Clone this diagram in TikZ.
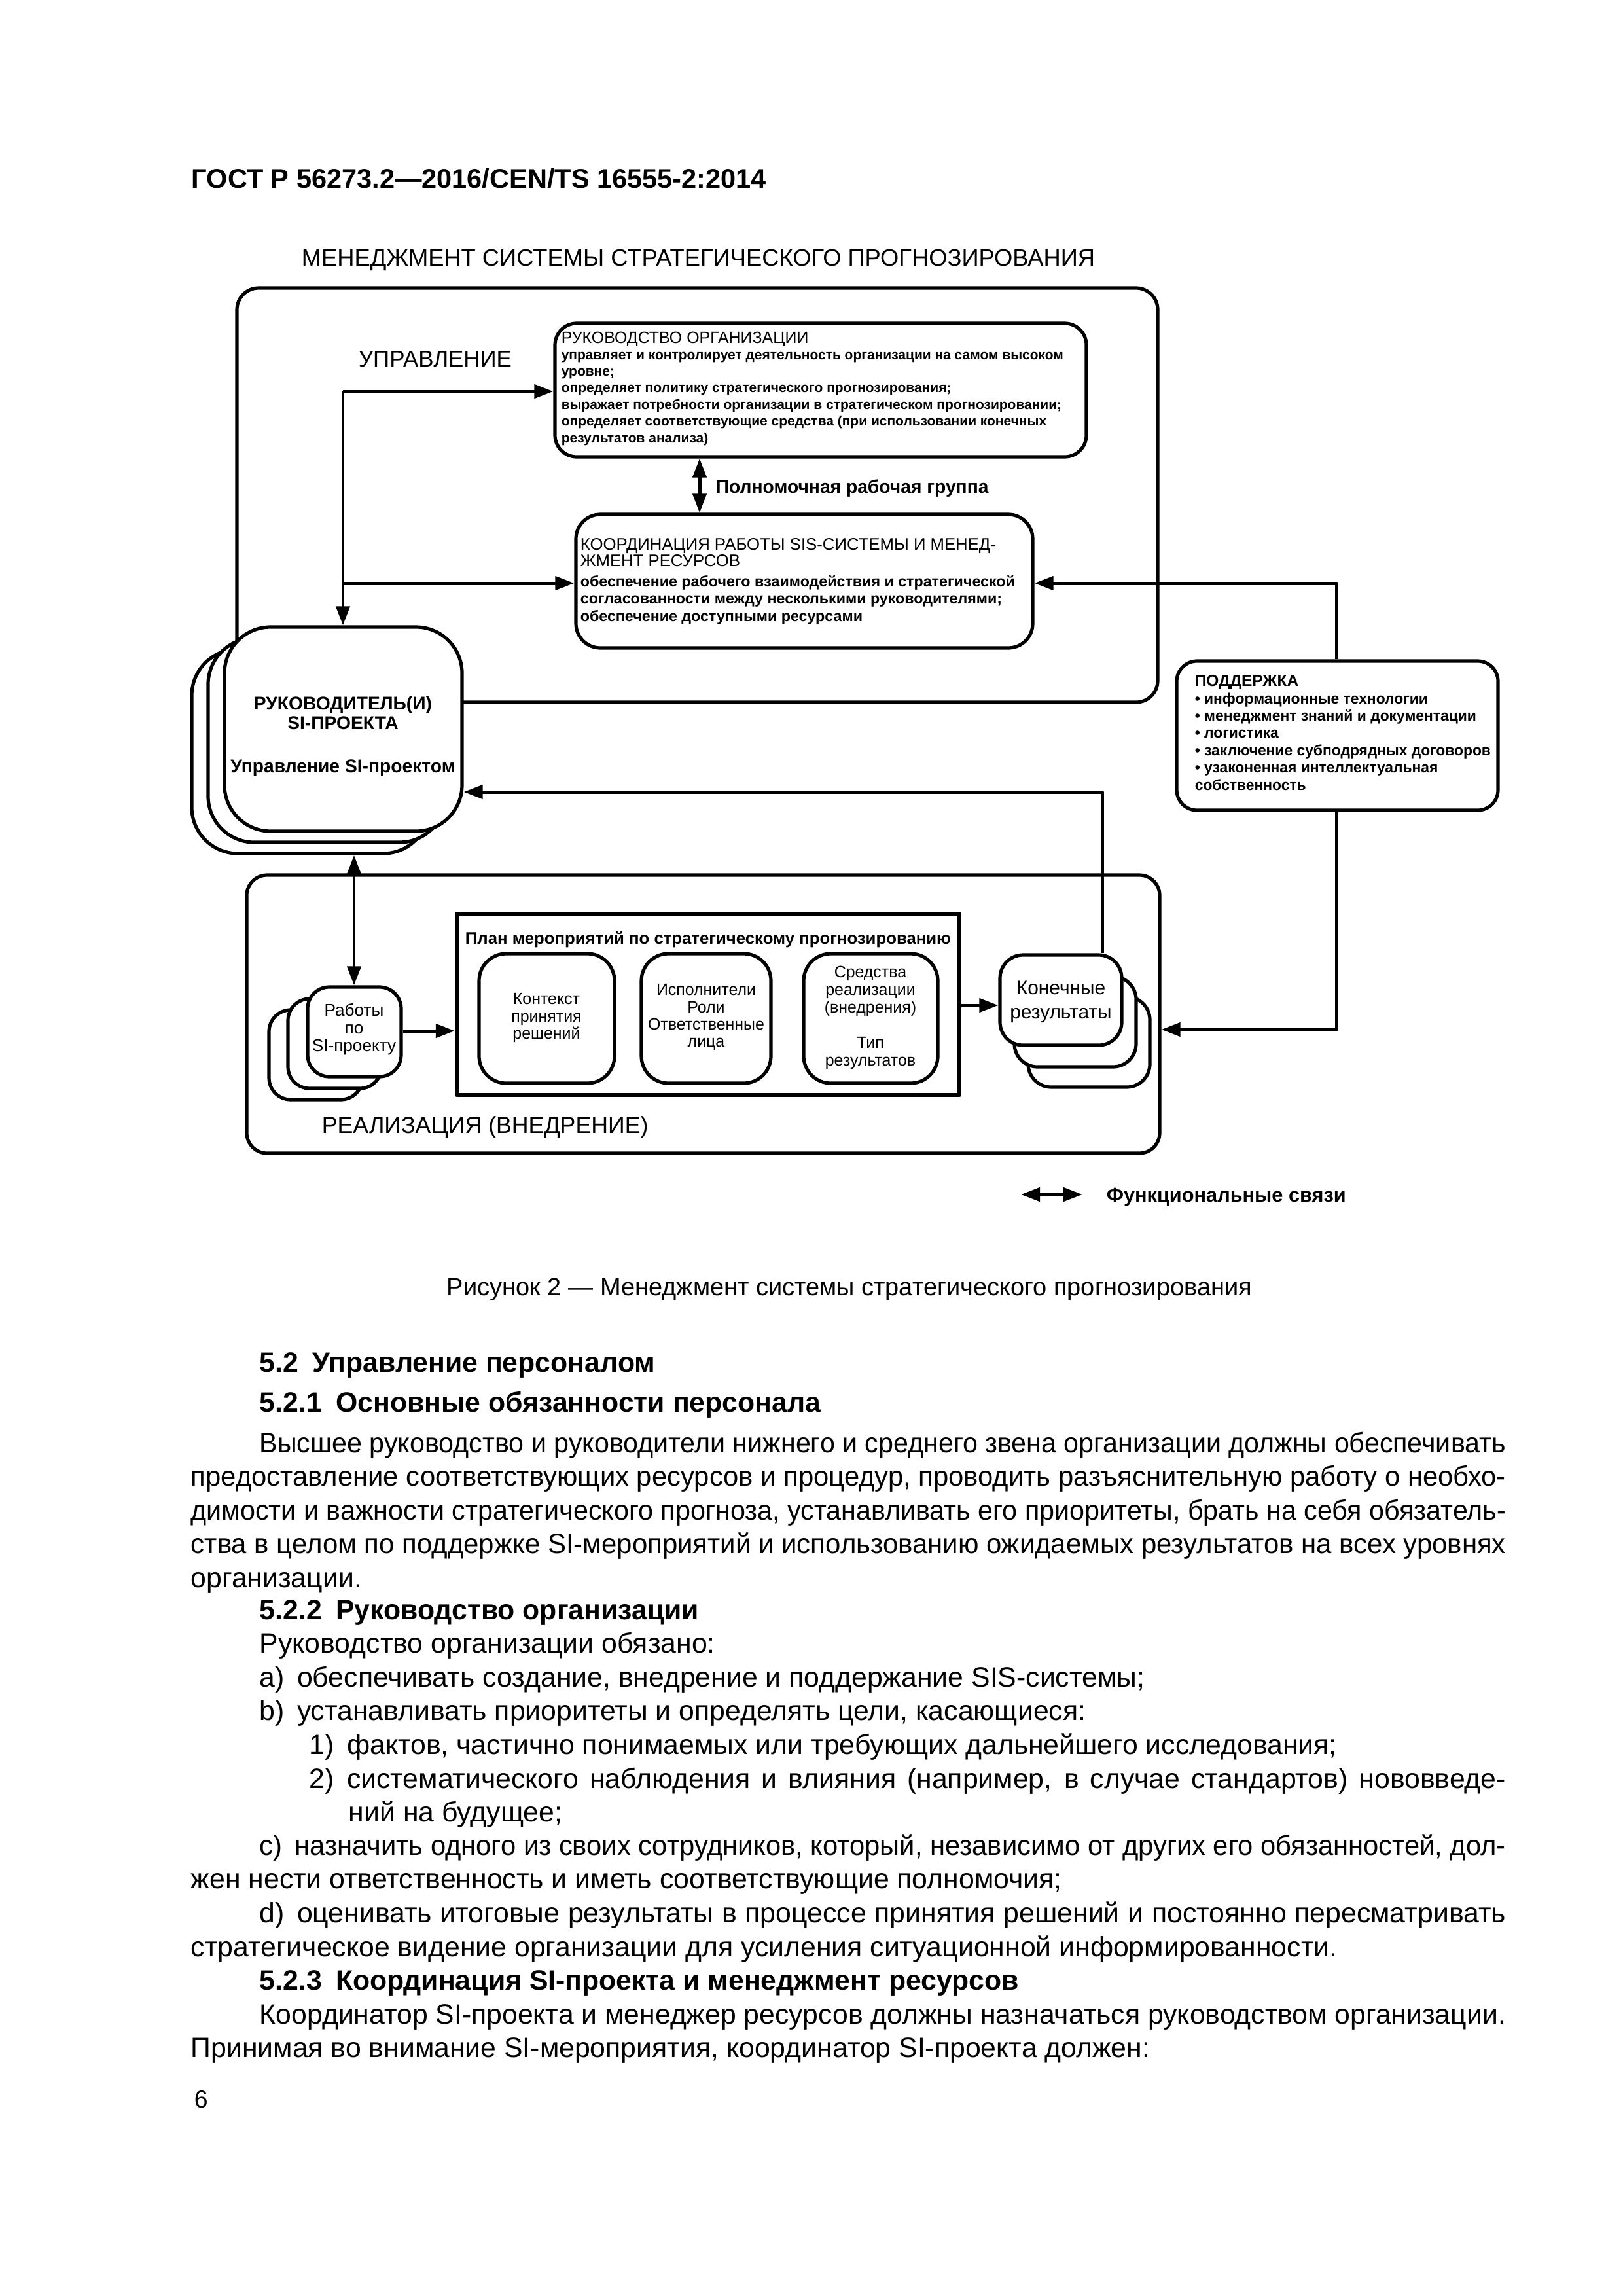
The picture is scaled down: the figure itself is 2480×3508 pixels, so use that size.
\documentclass[tikz,border=0pt]{standalone}
\usepackage{graphicx}
\usepackage{fontspec}
\setmainfont{Liberation Sans}
\usetikzlibrary{arrows.meta}
\newsavebox\jbox
\newcommand\jline[2]{\sbox\jbox{#2}\ifdim\wd\jbox>#1\relax\resizebox{#1}{\height}{\usebox\jbox}\else\hbox to #1{#2}\fi}
\newcommand\fsz[2]{\fontsize{#1}{#2}\selectfont}
\newcommand\bx[6]{\node[rbox,#6,minimum width={(#4-#2)*0.2409pt},minimum height={(#5-#3)*0.2409pt}] (#1) at ({(#2+#4)/2},{(#3+#5)/2}) {};}
\tikzset{
  ln/.style={line width=1.2pt},
  arr/.style={line width=1.2pt,-{Triangle[length=7pt,width=5pt]}},
  darr/.style={line width=1.2pt,{Triangle[length=7pt,width=5pt]}-{Triangle[length=7pt,width=5pt]}},
  rbox/.style={draw,line width=1.25pt,fill=white,inner sep=0pt},
  txt/.style={inner sep=0pt},
  body/.style={txt,anchor=base west,font=\fsz{10.3}{12}},
  bhead/.style={txt,anchor=base west,font=\bfseries\fsz{10.3}{12}},
  rukl/.style={txt,anchor=base west,font=\bfseries\fsz{5.05}{6}},
  col/.style={txt,anchor=base west,font=\bfseries\fsz{5.6}{7}},
  sul/.style={txt,anchor=base west,font=\bfseries\fsz{5.5}{7}},
  mgrl/.style={txt,anchor=base,font=\bfseries\fsz{6.8}{9}},
}
\begin{document}
\begin{tikzpicture}[x=0.2409pt,y=-0.2409pt,line join=round]
\fill[white] (0,0) rectangle (2480,3508);
\useasboundingbox (0,0) rectangle (2480,3508);

% header and title
\node[txt,anchor=base west,font=\bfseries\fsz{10}{12}] (hdr) at (292,287) {ГОСТ Р 56273.2—2016/CEN/TS 16555-2:2014};
\node[txt,anchor=base,font=\fsz{8.75}{10}] (ttl) at (1067,406) {МЕНЕДЖМЕНТ СИСТЕМЫ СТРАТЕГИЧЕСКОГО ПРОГНОЗИРОВАНИЯ};

% outer areas
\bx{ctl}{362}{440}{1769}{1073}{rounded corners=8pt}
\bx{impl}{377}{1337}{1772}{1762}{rounded corners=7.5pt}
\node[txt,anchor=base,font=\fsz{8.4}{10}] (ctlT) at (665,560) {УПРАВЛЕНИЕ};
\node[txt,anchor=base west,font=\fsz{8.6}{10}] (implT) at (491,1731) {РЕАЛИЗАЦИЯ (ВНЕДРЕНИЕ)};

% boxes of the management part
\bx{ruk}{848}{494}{1660}{698}{rounded corners=8pt}
\bx{coord}{880}{786}{1578}{990}{rounded corners=9pt}
\bx{sup}{1798}{1010}{2289}{1238}{rounded corners=7.5pt}

% connector points
\coordinate (j1) at (524,598);
\coordinate (j2) at (524,891);
\coordinate (pg) at (1069,740);
\coordinate (s1) at (2042,891);
\coordinate (s2) at (2042,1573);
\coordinate (f1) at (1684,1210);
\coordinate (w1) at (541,1400);
\coordinate (w2) at (600,1575);
\coordinate (r1) at (1500,1536);

% manager stack
\bx{mgrB2}{293}{992}{656}{1304}{rounded corners=17pt}
\bx{mgrB1}{318}{975}{681}{1287}{rounded corners=17pt}
\bx{mgr}{343}{958}{706}{1270}{rounded corners=17pt}
\node[mgrl] (mgrT1) at (524,1084) {РУКОВОДИТЕЛЬ(И)};
\node[mgrl] (mgrT2) at (524,1114) {SI-ПРОЕКТА};
\node[mgrl] (mgrT3) at (524,1180) {Управление SI-проектом};

\draw[arr] (j1) -- (ruk.west |- j1);
\draw[arr] (j1) -- (mgr.north -| j1);
\draw[arr] (j2) -- (coord.west |- j2);
\draw[darr] (ruk.south -| pg) -- (coord.north -| pg);
\node[txt,anchor=base west,font=\bfseries\fsz{6.8}{8}] (pgT) at (1093,753) {Полномочная рабочая группа};
\draw[arr] (sup.north -| s1) -- (s1) -- (coord.east |- s1);
\draw[arr] (sup.south -| s2) -- (s2) -- (impl.east |- s2);

% texts of ruk
\node[txt,anchor=base west,font=\fsz{6}{7}] (rukT) at (857,524) {РУКОВОДСТВО ОРГАНИЗАЦИИ};
\node[rukl] (rukL1) at (857,549) {управляет и контролирует деятельность организации на самом высоком};
\node[rukl] (rukL2) at (857,574) {уровне;};
\node[rukl] (rukL3) at (857,599.5) {определяет политику стратегического прогнозирования;};
\node[rukl] (rukL4) at (857,625) {выражает потребности организации в стратегическом прогнозировании;};
\node[rukl] (rukL5) at (857,650.5) {определяет соответствующие средства (при использовании конечных};
\node[rukl] (rukL6) at (857,676) {результатов анализа)};

% texts of coord
\node[txt,anchor=base west,font=\fsz{6.2}{7}] (coT1) at (886,840) {КООРДИНАЦИЯ РАБОТЫ SIS-СИСТЕМЫ И МЕНЕД-};
\node[txt,anchor=base west,font=\fsz{6.2}{7}] (coT2) at (886,865) {ЖМЕНТ РЕСУРСОВ};
\node[col] (coL1) at (886,896) {обеспечение рабочего взаимодействия и стратегической};
\node[col] (coL2) at (886,922) {согласованности между несколькими руководителями;};
\node[col] (coL3) at (886,949) {обеспечение доступными ресурсами};

% texts of support
\node[txt,anchor=base west,font=\bfseries\fsz{5.9}{7}] (suT) at (1825,1048) {ПОДДЕРЖКА};
\node[sul] (suL1) at (1825,1075) {• информационные технологии};
\node[sul] (suL2) at (1825,1101) {• менеджмент знаний и документации};
\node[sul] (suL3) at (1825,1127) {• логистика};
\node[sul] (suL4) at (1825,1154) {• заключение субподрядных договоров};
\node[sul] (suL5) at (1825,1180) {• узаконенная интеллектуальная};
\node[sul] (suL6) at (1825,1207) {собственность};

% implementation part
\node[draw,line width=1.5pt,fill=white,inner sep=0pt,minimum width={(1466-698)*0.2409pt},minimum height={(1673-1396)*0.2409pt}] (plan) at (1082,1534.5) {};
\node[txt,anchor=base,font=\bfseries\fsz{6.2}{7}] (planT) at (1082,1442) {План мероприятий по стратегическому прогнозированию};
\bx{ctx}{732}{1457}{939}{1655}{rounded corners=10pt}
\bx{exe}{980}{1457}{1178}{1655}{rounded corners=10pt}
\bx{means}{1228}{1457}{1433}{1655}{rounded corners=10pt}
\node[txt,align=center,font=\fsz{6}{6.5}] (ctxT) at (835,1555) {Контекст\\принятия\\решений};
\node[txt,align=center,font=\fsz{6}{6.3}] (exeT) at (1079,1554) {Исполнители\\Роли\\Ответственные\\лица};
\node[txt,align=center,font=\fsz{6}{6.5}] (meansT) at (1330,1555) {Средства\\реализации\\(внедрения)\\[6.5pt]Тип\\результатов};

\bx{workB2}{411}{1543}{554}{1680}{rounded corners=8pt}
\bx{workB1}{440}{1526}{583}{1663}{rounded corners=8pt}
\bx{work}{470}{1508}{613}{1645}{rounded corners=8pt}
\node[txt,align=center,font=\fsz{6.3}{6.5}] (workT) at (541,1573) {Работы\\по\\SI-проекту};

\bx{resB2}{1571}{1523}{1757}{1661}{rounded corners=8.5pt}
\bx{resB1}{1550}{1492}{1736}{1630}{rounded corners=8.5pt}
\bx{res}{1528}{1459}{1714}{1597}{rounded corners=8.5pt}
\node[txt,align=center,font=\fsz{7.2}{8.9}] (resT) at (1621,1531) {Конечные\\результаты};

\draw[arr] (res.north -| f1) -- (f1) -- (mgr.east |- f1);
\draw[darr] (mgrB2.south -| w1) -- (work.north -| w1);
\draw[arr] (work.east |- w2) -- (plan.west |- w2);
\draw[arr] (plan.east |- r1) -- (res.west |- r1);

% legend and caption
\coordinate (lga) at (1560,1825);
\coordinate (lgb) at (1654,1825);
\draw[darr] (lga) -- (lgb);
\node[txt,anchor=base west,font=\bfseries\fsz{7.4}{9}] (lgT) at (1690,1836) {Функциональные связи};
\node[txt,anchor=base,font=\fsz{9.15}{11}] (cap) at (1298,1979) {Рисунок 2~— Менеджмент системы стратегического прогнозирования};

% body text
\node[bhead] (h52) at (396,2096) {5.2\hspace{0.5em}Управление персоналом};
\node[bhead] (h521) at (396,2157) {5.2.1\hspace{0.5em}Основные обязанности персонала};
\node[body] (p3) at (396,2219) {\jline{458.7pt}{Высшее руководство и руководители нижнего и среднего звена организации должны обеспечивать}};
\node[body] (p4) at (291,2270) {\jline{484pt}{предоставление соответствующих ресурсов и процедур, проводить разъяснительную работу о необхо-}};
\node[body] (p5) at (291,2322) {\jline{484pt}{димости и важности стратегического прогноза, устанавливать его приоритеты, брать на себя обязатель-}};
\node[body] (p6) at (291,2373) {\jline{484pt}{ства в целом по поддержке SI-мероприятий и использованию ожидаемых результатов на всех уровнях}};
\node[body] (p7) at (291,2425) {организации.};
\node[bhead] (h522) at (396,2474) {5.2.2\hspace{0.5em}Руководство организации};
\node[body] (p9) at (396,2525) {Руководство организации обязано:};
\node[body] (p10) at (396,2577) {a)\hspace{0.45em}обеспечивать создание, внедрение и поддержание SIS-системы;};
\node[body] (p11) at (396,2628) {b)\hspace{0.45em}устанавливать приоритеты и определять цели, касающиеся:};
\node[body] (p12) at (472,2680) {1)\hspace{0.45em}фактов, частично понимаемых или требующих дальнейшего исследования;};
\node[body] (p13) at (472,2732) {\jline{440.4pt}{2)\hspace{0.45em}систематического наблюдения и влияния (например, в случае стандартов) нововведе-}};
\node[body] (p14) at (532,2783) {ний на будущее;};
\node[body] (p15) at (396,2834) {\jline{458.7pt}{c)\hspace{0.45em}назначить одного из своих сотрудников, который, независимо от других его обязанностей, дол-}};
\node[body] (p16) at (291,2885) {жен нести ответственность и иметь соответствующие полномочия;};
\node[body] (p17) at (396,2937) {\jline{458.7pt}{d)\hspace{0.45em}оценивать итоговые результаты в процессе принятия решений и постоянно пересматривать}};
\node[body] (p18) at (291,2989) {стратегическое видение организации для усиления ситуационной информированности.};
\node[bhead] (h523) at (396,3040) {5.2.3\hspace{0.5em}Координация SI-проекта и менеджмент ресурсов};
\node[body] (p20) at (396,3092) {\jline{458.7pt}{Координатор SI-проекта и менеджер ресурсов должны назначаться руководством организации.}};
\node[body] (p21) at (291,3143) {Принимая во внимание SI-мероприятия, координатор SI-проекта должен:};
\node[txt,anchor=base west,font=\fsz{9}{11}] (pnum) at (296,3220) {6};
\end{tikzpicture}
\end{document}
